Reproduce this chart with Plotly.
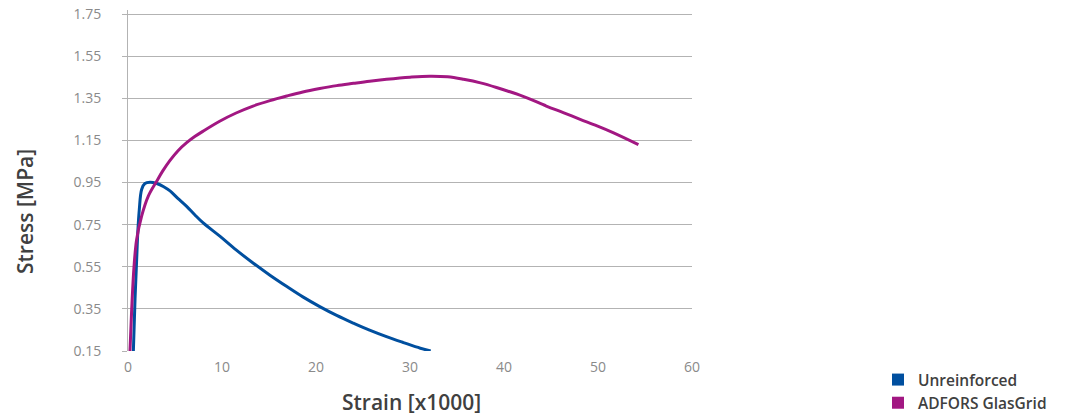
import plotly.graph_objects as go

# Unreinforced curve (strain x1000, stress MPa)
unr_strain = [0.57, 0.75, 0.92, 1.05, 1.2, 1.45, 1.8, 2.34, 3.05, 3.8, 4.47, 5.3, 6.24, 7.1, 8.0, 9.8, 11.5, 13.3, 15.1, 16.9, 18.6, 20.4, 22.2, 24.0, 25.7, 27.5, 29.3, 31.1, 32.2]
unr_stress = [0.15, 0.40, 0.583, 0.72, 0.82, 0.917, 0.945, 0.951, 0.945, 0.93, 0.91, 0.875, 0.837, 0.797, 0.758, 0.694, 0.63, 0.568, 0.51, 0.456, 0.407, 0.361, 0.319, 0.282, 0.249, 0.218, 0.19, 0.163, 0.15]

# ADFORS GlasGrid curve
gg_strain = [0.21, 0.39, 0.64, 0.92, 1.45, 2.16, 3.05, 3.7, 4.47, 5.3, 6.24, 7.1, 8.0, 9.8, 11.5, 13.3, 15.1, 16.9, 18.6, 20.4, 22.2, 24.0, 25.7, 27.5, 30.0, 32.1, 34.0, 35.7, 37.5, 39.2, 42.1, 44.5, 46.3, 48.1, 49.9, 51.6, 54.3]
gg_stress = [0.15, 0.345, 0.551, 0.679, 0.79, 0.885, 0.956, 1.005, 1.055, 1.10, 1.139, 1.168, 1.194, 1.242, 1.28, 1.313, 1.339, 1.361, 1.38, 1.396, 1.41, 1.421, 1.431, 1.44, 1.45, 1.455, 1.452, 1.44, 1.423, 1.401, 1.358, 1.313, 1.282, 1.25, 1.219, 1.187, 1.13]

y_ticks = [0.15, 0.35, 0.55, 0.75, 0.95, 1.15, 1.35, 1.55, 1.75]
y_labels = ["0.15", "0.35", "0.55", "0.75", "0.95", "1.15", "1.35", "1.55", "1.75"]
x_ticks = [0, 10, 20, 30, 40, 50, 60]

series_names = ["Unreinforced", "ADFORS GlasGrid"]
colors = ["#004f9f", "#a21782"]

FONT = "Open Sans"
OFF = 8  # page body margin
W, H = 1078 - OFF, 416 - OFF
# plot area in screen pixels, converted to figure pixels
L, R, T, B = 128 - OFF, 692 - OFF, 10 - OFF, 351 - OFF

fig = go.Figure()
fig.add_trace(go.Scatter(x=unr_strain, y=unr_stress, mode="lines",
                         line=dict(color=colors[0], width=3, shape="spline", smoothing=1.0),
                         showlegend=False, cliponaxis=False))
fig.add_trace(go.Scatter(x=gg_strain, y=gg_stress, mode="lines",
                         line=dict(color=colors[1], width=3, shape="spline", smoothing=1.0),
                         showlegend=False, cliponaxis=False))
for i, (name, c) in enumerate(zip(series_names, colors)):
    fig.add_trace(go.Scatter(x=[None], y=[None], mode="markers", name=name,
                             legendgroup=f"g{i}",
                             marker=dict(symbol="square", size=15, color=c)))

fig.update_layout(
    width=W, height=H,
    margin=dict(l=L, r=W - R, t=T, b=H - B, autoexpand=False),
    paper_bgcolor="white", plot_bgcolor="white",
    font=dict(family=FONT),
    legend=dict(xref="container", yref="container",
                x=(878 - OFF) / W, y=1 - (363 - OFF) / H, xanchor="left", yanchor="top",
                font=dict(size=15.5, color="#404040", family=FONT, weight=600),
                itemsizing="constant", tracegroupgap=0, bgcolor="rgba(0,0,0,0)"),
    xaxis=dict(range=[0, 60], tickvals=x_ticks, showgrid=False, zeroline=False,
               showline=False, ticks="", tickfont=dict(size=14, color="#8a8a8a"),
               ticklabelstandoff=6, automargin=False, ticklabeloverflow="allow"),
    yaxis=dict(range=[0.15, 1.769], tickvals=y_ticks, ticktext=y_labels,
               showgrid=True, gridcolor="#b3b3b3", gridwidth=1, zeroline=False,
               showline=True, linecolor="#b3b3b3", linewidth=1,
               ticks="outside", ticklen=5, tickcolor="#b3b3b3",
               tickfont=dict(size=14, color="#8a8a8a"), ticklabelstandoff=18,
               automargin=False, ticklabeloverflow="allow"),
    annotations=[
        dict(text="Strain [x1000]", xref="paper", yref="paper",
             x=(411 - OFF - L) / (R - L), y=(B - (402 - OFF)) / (B - T),
             xanchor="center", yanchor="middle",
             showarrow=False, font=dict(size=21, color="#404040", family=FONT, weight=600)),
        dict(text="Stress [MPa]", xref="paper", yref="paper", textangle=-90,
             x=(25 - OFF - L) / (R - L), y=(B - (211 - OFF)) / (B - T),
             xanchor="center", yanchor="middle", showarrow=False,
             font=dict(size=21, color="#404040", family=FONT, weight=600)),
    ],
)

fig.write_html("out.html")
